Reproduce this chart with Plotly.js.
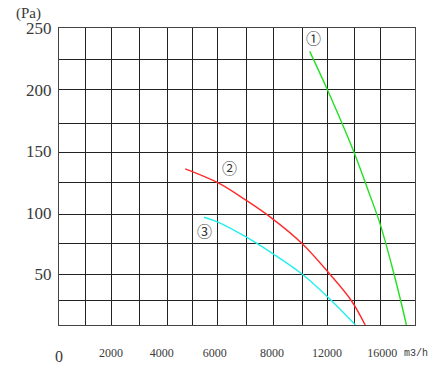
<!DOCTYPE html>
<html>
<head>
<meta charset="utf-8">
<script src="https://cdn.plot.ly/plotly-3.0.1.min.js"></script>
<style>html,body{margin:0;padding:0;background:#fff;}#chart{width:442px;height:366px;}</style>
</head>
<body>
<div id="chart"></div>
<script>
// Curve data (airflow m3/h on a linear scale, pressure Pa)
const curve1X = [9642, 10323, 11307, 11884, 12361, 12884, 13142, 13361];
const curve1Y = [231.0, 199.8, 151.1, 118.5, 90.1, 50.2, 28.5, 8.8];
const curve2X = [4854, 6142, 7200, 8103, 9346, 10411, 11246, 11776];
const curve2Y = [135.6, 124.0, 110.0, 96.8, 75.0, 50.2, 28.5, 8.8];
const curve3X = [5577, 6115, 7208, 8103, 9346, 10346, 11400];
const curve3Y = [96.3, 92.3, 80.1, 68.4, 50.2, 31.3, 8.8];

// Curve labels
const curveLabels = ['①', '②', '③'];
const labelX = [9769, 6565, 5604];
const labelY = [241.9, 137.0, 85.2];

// Axis ticks (label positions as printed on the original chart)
const xTickVals = [2000, 3950, 5988, 8192, 10308, 12430];
const xTickText = ['2000', '4000', '6000', '8000', '12000', '16000'];
const xGridVals = [1038, 2000, 3092, 4154, 5131, 6115, 7208, 8258, 9362, 10335, 11346, 12373];
const yTickVals = [250, 200, 150, 100, 50];
const yTickText = ['250', '200', '150', '100', '50'];
const yGridVals = [224.8, 200.4, 172.8, 149.0, 124.5, 98.6, 74.6, 50.0, 28.3];

const serif = '"Liberation Serif", "DejaVu Serif", serif';

const traces = [
  {x: curve1X, y: curve1Y, mode: 'lines', line: {color: '#22e022', width: 1.4, shape: 'spline', smoothing: 1}, hoverinfo: 'skip'},
  {x: curve2X, y: curve2Y, mode: 'lines', line: {color: '#ff2a2a', width: 1.4, shape: 'spline', smoothing: 1}, hoverinfo: 'skip'},
  {x: curve3X, y: curve3Y, mode: 'lines', line: {color: '#22eeee', width: 1.4, shape: 'spline', smoothing: 1}, hoverinfo: 'skip'}
];

const annotations = curveLabels.map((t, i) => ({
  x: labelX[i], y: labelY[i], xref: 'x', yref: 'y', text: t, showarrow: false,
  font: {family: '"Noto Sans CJK SC"', size: 15, color: '#333'}
}));
annotations.push({x: 0, y: 0, xref: 'x', yref: 'paper', yanchor: 'middle', xanchor: 'center', yshift: -31,
  text: '0', showarrow: false, font: {family: serif, size: 16, color: '#3a3a3a'}});
annotations.push({x: 1.003, y: 0, xref: 'paper', yref: 'paper', yanchor: 'middle', xanchor: 'center', yshift: -28,
  text: 'm3/h', showarrow: false, font: {family: '"Liberation Mono", monospace', size: 10, color: '#3a3a3a'}});
annotations.push({x: -0.085, y: 1, xref: 'paper', yref: 'paper', yanchor: 'middle', xanchor: 'center', yshift: 15,
  text: '(Pa)', showarrow: false, font: {family: serif, size: 15, color: '#3a3a3a'}});

const layout = {
  width: 442, height: 366,
  margin: {l: 59, r: 27, t: 28, b: 41, pad: 0},
  paper_bgcolor: '#fff', plot_bgcolor: '#fff',
  showlegend: false,
  font: {family: serif, color: '#3a3a3a'},
  xaxis: {
    range: [0, 13692], tickmode: 'array', tickvals: xTickVals, ticktext: xTickText,
    showgrid: false, zeroline: false, ticks: '', ticklabelstandoff: 16,
    tickfont: {family: serif, size: 12, color: '#3a3a3a'},
    showline: true, mirror: true, linecolor: '#444', linewidth: 1.2,
    minor: {tickmode: 'array', tickvals: xGridVals, showgrid: true, gridcolor: '#222', gridwidth: 1, ticks: ''}
  },
  yaxis: {
    range: [8.8, 250], tickmode: 'array', tickvals: yTickVals, ticktext: yTickText,
    showgrid: false, zeroline: false, ticks: '', ticklabelstandoff: 3,
    tickfont: {family: serif, size: 17, color: '#3a3a3a'},
    showline: true, mirror: true, linecolor: '#444', linewidth: 1.2,
    minor: {tickmode: 'array', tickvals: yGridVals, showgrid: true, gridcolor: '#222', gridwidth: 1, ticks: ''}
  },
  annotations: annotations
};

Plotly.newPlot('chart', traces, layout, {staticPlot: true, displayModeBar: false});
</script>
</body>
</html>
